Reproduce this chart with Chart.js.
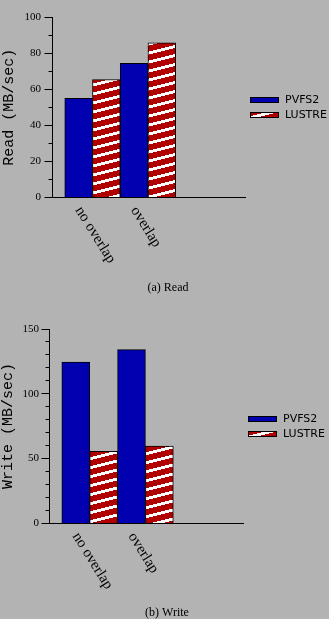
<!DOCTYPE html>
<html><head><meta charset="utf-8">
<script src="https://cdn.jsdelivr.net/npm/chart.js@4/dist/chart.umd.min.js"></script>
<style>
html,body{margin:0;padding:0;background:#b3b3b3;}
body{width:329px;height:619px;position:relative;overflow:hidden;}
canvas{position:absolute;left:0;}
#c1{top:0;} #c2{top:310px;}
</style></head><body>
<canvas id="c1" width="329" height="310"></canvas>
<canvas id="c2" width="329" height="309"></canvas>
<script>
// ---- data ----
const CATEGORIES = ['no overlap', 'overlap'];
const SERIES = ['PVFS2', 'LUSTRE'];
const READ_PVFS2 = [55, 74.5];
const READ_LUSTRE = [65.5, 86];
const WRITE_PVFS2 = [124.5, 134];
const WRITE_LUSTRE = [55.5, 59.5];
const READ_TICKS = [0, 20, 40, 60, 80, 100];
const WRITE_TICKS = [0, 50, 100, 150];

const BLUE = '#0000b0';
const RED = '#b00000';

function makeStripe() {
  const t = document.createElement('canvas');
  t.width = 36; t.height = 9;
  const g = t.getContext('2d');
  g.fillStyle = RED; g.fillRect(0, 0, 36, 9);
  g.fillStyle = '#ffffff';
  for (let x = 0; x < 36; x++) {
    const y0 = Math.floor(8 - x / 4);
    for (let k = 0; k < 3; k++) g.fillRect(x, (((y0 + k) % 9) + 9) % 9, 1, 1);
  }
  return g.createPattern(t, 'repeat');
}
const STRIPE = makeStripe();

const decor = {
  id: 'decor',
  afterDraw(chart, args, o) {
    const ctx = chart.ctx, ys = chart.scales.y, xs = chart.scales.x, ca = chart.chartArea;
    ctx.save();
    ctx.strokeStyle = '#000'; ctx.lineWidth = 1;
    const ax = Math.round(ca.left) + 0.5;
    ys.ticks.forEach(t => {
      const y = Math.round(ys.getPixelForValue(t.value) - 0.5) + 0.5;
      const len = o.major.includes(t.value) ? 8 : 4;
      ctx.beginPath(); ctx.moveTo(ax - len, y); ctx.lineTo(ax, y); ctx.stroke();
    });
    // category labels
    ctx.fillStyle = '#000';
    ctx.font = '15px "Liberation Serif"';
    ctx.textAlign = 'left'; ctx.textBaseline = 'alphabetic';
    CATEGORIES.forEach((c, i) => {
      const px = xs.getPixelForValue(i + 1);
      ctx.save();
      ctx.translate(px - 17.5, ca.bottom + 13);
      ctx.rotate(58 * Math.PI / 180);
      ctx.fillText(c, 0, 0);
      ctx.restore();
    });
    // legend
    const cy = (ca.top + ca.bottom) / 2;
    const sx = Math.round(ca.right) + 5;
    ctx.font = '11px "DejaVu Sans"';
    ctx.textBaseline = 'middle';
    chart.data.datasets.forEach((ds, i) => {
      const y = Math.round(cy - 7.5 + 15 * i);
      ctx.fillStyle = ds.backgroundColor;
      ctx.fillRect(sx, y - 3, 28, 6);
      ctx.strokeStyle = '#000';
      ctx.strokeRect(sx + 0.5, y - 3 + 0.5, 28, 5);
      ctx.fillStyle = '#000';
      ctx.fillText(ds.label, sx + 35, y + 0.5);
    });
    // caption
    ctx.font = '12px "Liberation Serif"';
    ctx.textAlign = 'center'; ctx.textBaseline = 'alphabetic';
    ctx.fillText(o.caption, o.capX, o.capY);
    ctx.restore();
  }
};

function build(id, cfg) {
  const H = document.getElementById(id).height;
  return new Chart(document.getElementById(id), {
    type: 'bar',
    data: {
      datasets: [
        { label: SERIES[0], data: cfg.a.map((v, i) => ({ x: i + 1, y: v })), backgroundColor: BLUE, borderColor: '#000', borderWidth: 1 },
        { label: SERIES[1], data: cfg.b.map((v, i) => ({ x: i + 1, y: v })), backgroundColor: STRIPE, borderColor: '#000', borderWidth: 1 }
      ]
    },
    options: {
      responsive: false, animation: false, devicePixelRatio: 1,
      layout: { autoPadding: false, padding: { top: cfg.top, left: 0, right: 329 - cfg.right, bottom: 0 } },
      datasets: { bar: { categoryPercentage: 1, barPercentage: 1 } },
      plugins: {
        legend: { display: false }, tooltip: { enabled: false },
        decor: { major: cfg.ticks, caption: cfg.caption, capX: cfg.capX, capY: cfg.capY }
      },
      scales: {
        x: {
          type: 'linear', min: 0.27, max: 3.75, offset: false,
          grid: { display: false, drawTicks: false, offset: false },
          border: { display: true, color: '#000', width: 1 },
          ticks: { display: false },
          afterBuildTicks: s => { s.ticks = CATEGORIES.map((c, i) => ({ value: i + 1 })); },
          afterFit: s => { s.height = H - cfg.bottom; }
        },
        y: {
          min: 0, max: cfg.max,
          ticks: {
            stepSize: 10, autoSkip: false, color: '#000', padding: cfg.tpad,
            font: { family: 'Liberation Serif', size: 11 },
            callback: v => cfg.ticks.includes(v) ? String(v) : ''
          },
          grid: { display: false, drawTicks: false },
          border: { display: true, color: '#000', width: 1 },
          title: {
            display: true, text: cfg.title, color: '#000',
            font: { family: 'Liberation Mono', size: 15, lineHeight: 1 },
            padding: { top: cfg.tp, bottom: 0 }
          },
          afterFit: s => { s.width = cfg.left; }
        }
      }
    },
    plugins: [decor]
  });
}

build('c1', { a: READ_PVFS2, b: READ_LUSTRE, max: 100, ticks: READ_TICKS, top: 4, bottom: 197, left: 52, right: 245,
  tpad: 11, tp: 2, title: 'Read (MB/sec)', caption: '(a) Read', capX: 168, capY: 290.5 });
build('c2', { a: WRITE_PVFS2, b: WRITE_LUSTRE, max: 150, ticks: WRITE_TICKS, top: 19, bottom: 213, left: 49, right: 243,
  tpad: 10, tp: 0.5, title: 'Write (MB/sec)', caption: '(b) Write', capX: 167, capY: 306 });
</script>
</body></html>
